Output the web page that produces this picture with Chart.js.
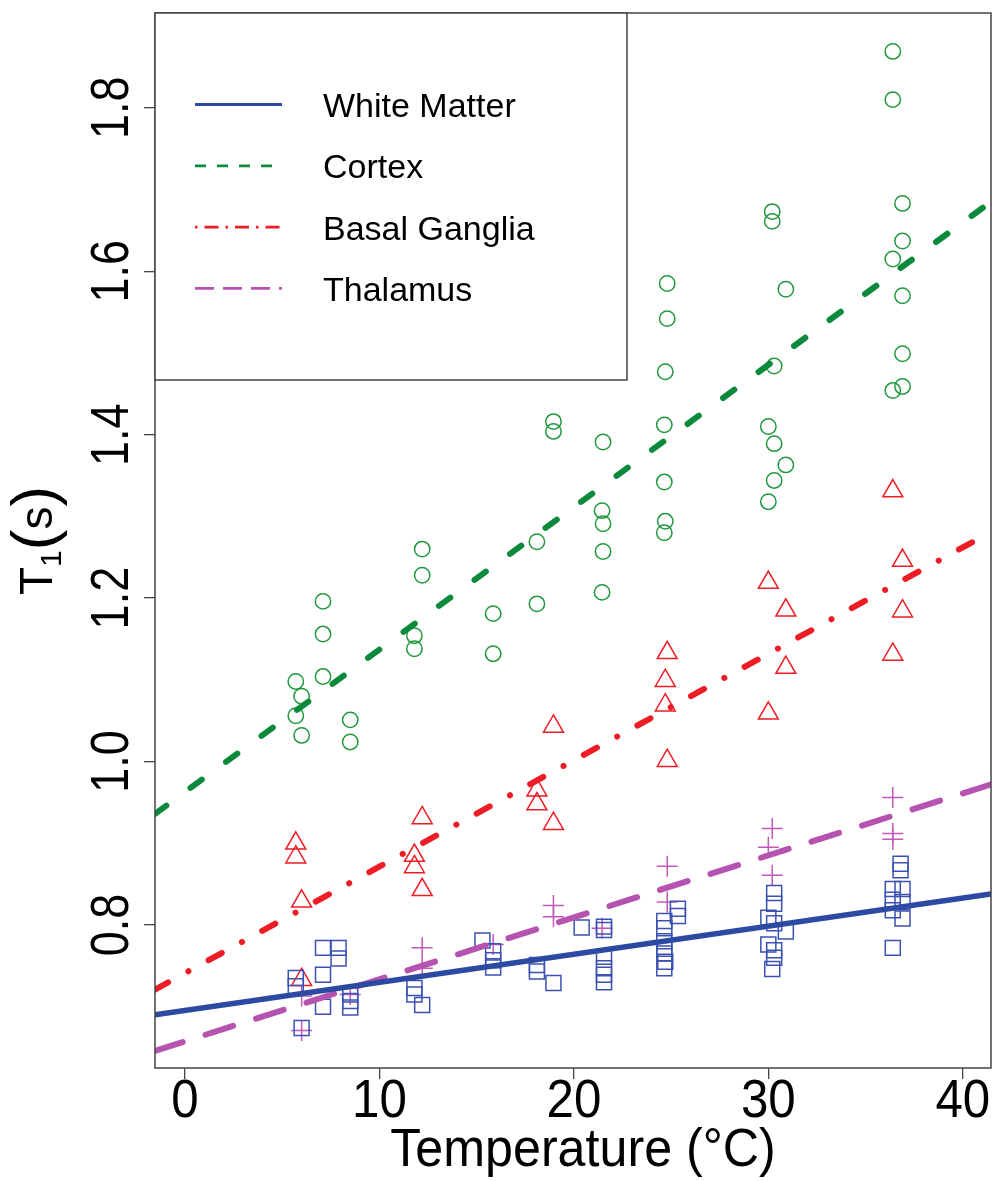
<!DOCTYPE html>
<html>
<head>
<meta charset="utf-8">
<script src="https://cdn.jsdelivr.net/npm/chart.js@4.4.0/dist/chart.umd.min.js"></script>
<style>
  html, body { margin: 0; padding: 0; background: #fff; overflow: hidden; }
  canvas { display: block; }
</style>
</head>
<body>
<canvas id="chart" width="1004" height="1181"></canvas>
<script>
const xTicks = [0, 10, 20, 30, 40];
const yTicks = [0.8, 1.0, 1.2, 1.4, 1.6, 1.8];
const xRange = [-1.54, 41.45];
const yRange = [0.625, 1.916];

const seriesNames = ['White Matter', 'Cortex', 'Basal Ganglia', 'Thalamus'];

// white matter (squares)
const wmTemp = [5.7, 5.7, 6.0, 7.1, 7.1, 7.1, 7.9, 7.9, 8.5, 8.5, 8.5, 11.8, 11.8, 12.2,
  15.3, 15.85, 15.85, 15.85, 18.1, 18.1, 18.95, 20.4, 21.55, 21.55, 21.55, 21.55, 21.55, 21.55,
  24.65, 24.65, 24.65, 24.65, 24.65, 24.7, 24.65, 25.35, 25.35,
  30.3, 30.3, 30.0, 30.3, 30.9, 30.0, 30.3, 30.3, 30.2,
  36.8, 36.8, 36.4, 36.9, 36.4, 36.9, 36.4, 36.9, 36.4];
const wmT1 = [0.735, 0.725, 0.674, 0.772, 0.739, 0.700, 0.772, 0.759, 0.715, 0.707, 0.699, 0.723, 0.715, 0.702,
  0.781, 0.768, 0.757, 0.748, 0.751, 0.743, 0.729, 0.797, 0.798, 0.794, 0.761, 0.747, 0.739, 0.730,
  0.805, 0.796, 0.780, 0.771, 0.765, 0.755, 0.747, 0.820, 0.811,
  0.839, 0.826, 0.809, 0.802, 0.792, 0.776, 0.769, 0.760, 0.746,
  0.875, 0.867, 0.844, 0.844, 0.831, 0.828, 0.818, 0.808, 0.772];

// cortex (circles)
const cxTemp = [5.7, 5.7, 6.0, 6.0, 7.1, 7.1, 7.1, 8.5, 8.5, 11.8, 11.8, 12.2, 12.2, 15.85, 15.85,
  18.1, 18.1, 18.95, 18.95, 21.5, 21.45, 21.5, 21.5, 21.45,
  24.65, 24.65, 24.7, 24.65, 24.8, 24.8, 24.7,
  30.2, 30.2, 30.9, 30.3, 30.0, 30.3, 30.9, 30.3, 30.0,
  36.4, 36.4, 36.9, 36.9, 36.4, 36.9, 36.9, 36.9, 36.4];
const cxT1 = [1.098, 1.056, 1.080, 1.032, 1.196, 1.156, 1.104, 1.051, 1.024, 1.154, 1.138, 1.260, 1.228, 1.181, 1.132,
  1.269, 1.193, 1.416, 1.404, 1.391, 1.307, 1.291, 1.257, 1.207,
  1.412, 1.342, 1.294, 1.280, 1.585, 1.542, 1.477,
  1.673, 1.661, 1.578, 1.484, 1.410, 1.389, 1.363, 1.344, 1.318,
  1.869, 1.810, 1.683, 1.637, 1.615, 1.570, 1.499, 1.459, 1.454];

// basal ganglia (triangles)
const bgTemp = [5.7, 5.7, 6.0, 6.0, 11.8, 11.8, 12.2, 12.2, 18.1, 18.1, 18.95, 18.95,
  24.8, 24.7, 24.7, 24.8, 30.0, 30.0, 30.9, 30.9, 36.4, 36.4, 36.9, 36.9];
const bgT1 = [0.900, 0.883, 0.829, 0.733, 0.885, 0.871, 0.931, 0.843, 0.965, 0.948, 1.043, 0.924,
  1.133, 1.099, 1.069, 1.001, 1.219, 1.059, 1.185, 1.115, 1.331, 1.131, 1.246, 1.184];

// thalamus (crosses)
const thTemp = [6.0, 6.0, 8.5, 12.2, 12.2, 15.85, 18.95, 18.95, 21.45, 24.8, 24.8, 30.2, 30.0, 30.2, 36.4, 36.4, 36.4];
const thT1 = [0.713, 0.671, 0.715, 0.772, 0.747, 0.776, 0.824, 0.810, 0.796, 0.872, 0.828, 0.918, 0.895, 0.861, 0.956, 0.912, 0.905];

// fitted lines: value at the left and right edge of the plot
const wmFit = [0.690, 0.838];
const cxFit = [0.936, 1.685];
const bgFit = [0.721, 1.281];
const thFit = [0.646, 0.972];

const FONT = '"Liberation Sans", Arial, Helvetica, sans-serif';

const pts = (xs, ys) => xs.map((x, i) => ({ x: x, y: ys[i] }));
const fit = (ys) => xRange.map((x, i) => ({ x: x, y: ys[i] }));

function fitLine(label, ys, color, width, dash, legendDash) {
  return {
    type: 'line', label: label, data: fit(ys),
    borderColor: color, borderWidth: width, borderDash: dash, borderCapStyle: 'round',
    pointRadius: 0, fill: false, order: 0,
    legendDash: legendDash,
  };
}

function pointSet(xs, ys, style, radius, color) {
  return {
    type: 'scatter', data: pts(xs, ys), showLine: false, order: 1,
    pointStyle: style, pointRadius: radius, pointBorderColor: color,
    pointBorderWidth: 1.5, pointBackgroundColor: 'rgba(0,0,0,0)',
  };
}

// draw text squeezed horizontally (the figure uses a narrow face)
function squeezed(ctx, text, x, y, sx, rot) {
  ctx.save();
  ctx.translate(x, y);
  if (rot) ctx.rotate(rot);
  ctx.scale(sx, 1);
  ctx.fillText(text, 0, 0);
  ctx.restore();
}

const decor = {
  id: 'decor',
  afterDraw(chart) {
    const { ctx, chartArea: a, scales: { x, y } } = chart;
    ctx.save();

    // box round the plot
    ctx.strokeStyle = '#444';
    ctx.lineWidth = 1.5;
    ctx.strokeRect(a.left, a.top, a.right - a.left, a.bottom - a.top);

    ctx.fillStyle = '#000';
    ctx.textAlign = 'center';
    ctx.textBaseline = 'alphabetic';

    // tick labels
    ctx.font = '53px ' + FONT;
    xTicks.forEach(v => squeezed(ctx, String(v), x.getPixelForValue(v), a.bottom + 49, 0.93));
    yTicks.forEach(v => squeezed(ctx, v.toFixed(1), a.left - 27, y.getPixelForValue(v), 0.85, -Math.PI / 2));

    // x title
    ctx.font = '54px ' + FONT;
    squeezed(ctx, 'Temperature (°C)', (a.left + a.right) / 2 + 10, a.bottom + 98, 0.93);

    // y title: T with subscript 1, then (s)
    const parts = [
      { t: 'T', size: 46, dy: 0 },
      { t: '1', size: 30, dy: 9 },
      { t: '(', size: 62, dy: 2 },
      { t: 's', size: 46, dy: 0 },
      { t: ')', size: 62, dy: 2 },
    ];
    let total = 0;
    parts.forEach(p => { ctx.font = p.size + 'px ' + FONT; p.w = ctx.measureText(p.t).width; total += p.w; });
    ctx.save();
    ctx.translate(52, (a.top + a.bottom) / 2);
    ctx.rotate(-Math.PI / 2);
    ctx.textAlign = 'left';
    let cx = -total / 2;
    parts.forEach(p => {
      ctx.font = p.size + 'px ' + FONT;
      ctx.fillText(p.t, cx, p.dy);
      cx += p.w;
    });
    ctx.restore();

    // legend box in the top-left corner
    const lx = a.left, ly = a.top, lw = 472, lh = 367;
    ctx.fillStyle = '#fff';
    ctx.fillRect(lx, ly, lw, lh);
    ctx.strokeStyle = '#444';
    ctx.lineWidth = 1.5;
    ctx.strokeRect(lx, ly, lw, lh);
    const lines = chart.data.datasets.filter(d => d.legendDash);
    lines.forEach((d, i) => {
      const ry = ly + 91.5 + i * 61.3;
      ctx.strokeStyle = d.borderColor;
      ctx.lineWidth = 2.8;
      ctx.lineCap = 'butt';
      ctx.setLineDash(d.legendDash);
      ctx.beginPath();
      ctx.moveTo(lx + 40, ry);
      ctx.lineTo(lx + 127, ry);
      ctx.stroke();
      ctx.setLineDash([]);
      ctx.fillStyle = '#000';
      ctx.font = '34px ' + FONT;
      ctx.textAlign = 'left';
      ctx.fillText(d.label, lx + 168, ry + 12.5);
    });
    ctx.restore();
  }
};

new Chart(document.getElementById('chart'), {
  type: 'scatter',
  data: {
    datasets: [
      fitLine(seriesNames[0], wmFit, '#2d4aa3', 5.5, [], []),
      fitLine(seriesNames[1], cxFit, '#0c8a3c', 6, [14, 30], [11, 11]),
      fitLine(seriesNames[2], bgFit, '#ee1c25', 6, [15, 23, 0.1, 23], [2.5, 7, 14, 7]),
      fitLine(seriesNames[3], thFit, '#b652b0', 6, [29, 24], [19, 9]),
      pointSet(wmTemp, wmT1, 'rect', 10.6, '#3b52b2'),
      pointSet(cxTemp, cxT1, 'circle', 7.7, '#22983e'),
      pointSet(bgTemp, bgT1, 'triangle', 11.5, '#ee1c25'),
      pointSet(thTemp, thT1, 'cross', 10.5, '#c258b8'),
    ]
  },
  options: {
    responsive: false,
    animation: false,
    layout: { padding: { top: 8, right: 3, left: 0, bottom: 0 } },
    plugins: { legend: { display: false }, tooltip: { enabled: false } },
    scales: {
      x: {
        type: 'linear', min: xRange[0], max: xRange[1],
        afterBuildTicks: (s) => { s.ticks = xTicks.map(v => ({ value: v })); },
        afterFit: (s) => { s.height = 113; },
        ticks: { display: false },
        grid: { drawOnChartArea: false, drawTicks: true, tickLength: 11, color: '#444', lineWidth: 1.3 },
        border: { display: false },
      },
      y: {
        type: 'linear', min: yRange[0], max: yRange[1],
        afterBuildTicks: (s) => { s.ticks = yTicks.map(v => ({ value: v })); },
        afterFit: (s) => { s.width = 155; },
        ticks: { display: false },
        grid: { drawOnChartArea: false, drawTicks: true, tickLength: 11, color: '#444', lineWidth: 1.3 },
        border: { display: false },
      },
    },
  },
  plugins: [decor],
});
</script>
</body>
</html>
